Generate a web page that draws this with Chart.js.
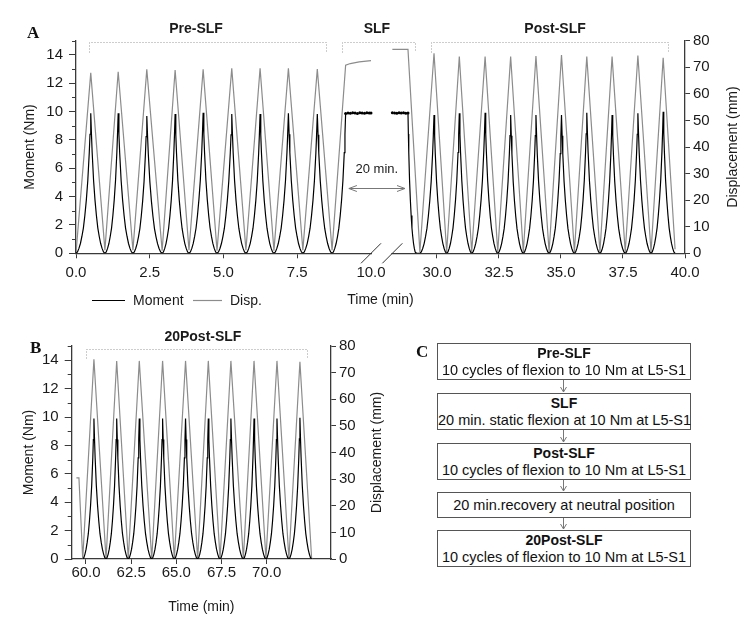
<!DOCTYPE html>
<html>
<head>
<meta charset="utf-8">
<script src="https://cdn.jsdelivr.net/npm/chart.js@4.4.1/dist/chart.umd.min.js"></script>
<style>
  body { margin: 0; background: #fff; width: 755px; height: 621px; position: relative; overflow: hidden;
         font-family: "Liberation Sans", Arial, sans-serif; color: #111; }
  canvas { position: absolute; }
  #chartA { left: 0; top: 0; }
  #chartB { left: 0; top: 320px; }
  .letter { position: absolute; font: bold 17px "Liberation Serif", "Times New Roman", serif; }
  .box { position: absolute; left: 437px; width: 254px; box-sizing: border-box; border: 1px solid #555;
         display: flex; flex-direction: column; justify-content: center; text-align: center;
         font-size: 14.5px; line-height: 16.5px; white-space: nowrap; }
  .box b { font-size: 14px; }
  #flowArrows { position: absolute; left: 0; top: 0; }
</style>
</head>
<body>
<canvas id="chartA" width="755" height="320"></canvas>
<canvas id="chartB" width="400" height="301"></canvas>

<div class="letter" style="left:27px; top:23px">A</div>
<div class="letter" style="left:30px; top:338px">B</div>
<div class="letter" style="left:416px; top:342px">C</div>

<div class="box" style="top:343px; height:37px"><b>Pre-SLF</b>10 cycles of flexion to 10 Nm at L5-S1</div>
<div class="box" style="top:393px; height:37px"><b>SLF</b>20 min. static flexion at 10 Nm at L5-S1</div>
<div class="box" style="top:443px; height:37px"><b>Post-SLF</b>10 cycles of flexion to 10 Nm at L5-S1</div>
<div class="box" style="top:492px; height:26px">20 min.recovery at neutral position</div>
<div class="box" style="top:530px; height:37px"><b>20Post-SLF</b>10 cycles of flexion to 10 Nm at L5-S1</div>
<svg id="flowArrows" width="755" height="621">
  <g stroke="#777" stroke-width="1" fill="none">
    <path d="M563.5 380 V392 M560.5 387 L563.5 392 L566.5 387"/>
    <path d="M563.5 430 V442 M560.5 437 L563.5 442 L566.5 437"/>
    <path d="M563.5 480 V491 M560.5 486 L563.5 491 L566.5 486"/>
    <path d="M563.5 518 V529 M560.5 524 L563.5 529 L566.5 524"/>
  </g>
</svg>

<script>
// ---- tick labels ----
const xTickTimesA = [0, 2.5, 5, 7.5, 10, 30, 32.5, 35, 37.5, 40];
const xTickTimesB = [60, 62.5, 65, 67.5, 70];
const momentTicks = [0, 2, 4, 6, 8, 10, 12, 14];
const momentMinorTicks = [1, 3, 5, 7, 9, 11, 13, 15];
const dispTicks = [0, 10, 20, 30, 40, 50, 60, 70, 80];

// ---- panel A: Pre-SLF cycles (time in min, moment in Nm, displacement in mm) ----
const preTroughTimes = [0, 0.98, 1.93, 2.92, 3.83, 4.78, 5.76, 6.71, 7.69, 8.68];
const preTroughDisp  = [0, 1.2, 1.2, 1.0, 1.2, 1.0, 1.2, 1.0, 1.2, 1.2];
const prePeakTimes   = [0.50, 1.43, 2.40, 3.36, 4.31, 5.28, 6.24, 7.20, 8.18];
const prePeakDisp    = [67.9, 68.3, 69.2, 69.0, 69.2, 69.6, 69.6, 69.6, 69.3];
const prePeakMoment  = [9.88, 9.88, 9.69, 9.83, 9.92, 9.83, 9.83, 9.88, 9.83];

// ---- panel A: SLF hold (axis is broken between 10 and 28.2 min) ----
const slfDispTimes   = [9.14, 9.3, 9.6, 10.0, 28.2, 28.83];
const slfDisp        = [70.8, 71.4, 72.0, 72.5, 76.7, 76.7];
const slfMomentTimes = [9.14, 9.22, 9.30, 9.38, 9.46, 9.54, 9.62, 9.70, 9.78, 9.86, 9.94, 10.0,
                        28.2, 28.29, 28.38, 28.47, 28.56, 28.65, 28.74, 28.83];
const slfMoment      = [9.86, 9.9, 9.88, 9.92, 9.9, 9.87, 9.91, 9.9, 9.88, 9.92, 9.9, 9.9,
                        9.92, 9.9, 9.88, 9.91, 9.9, 9.92, 9.89, 9.9];
const slfRiseFrom = 8.68;   // moment leaves zero
const slfFallTo = 29.15;    // moment back to zero

// ---- panel A: Post-SLF cycles ----
const postTroughTimes = [29.31, 30.39, 31.40, 32.45, 33.48, 34.52, 35.54, 36.57, 37.59, 38.63, 39.60];
const postTroughDisp  = [0.5, 0.5, 0.5, 0.5, 0.5, 0.5, 0.5, 0.5, 0.5, 0.5, 1.5];
const postPeakTimes   = [29.88, 30.90, 31.94, 32.97, 33.99, 35.02, 36.04, 37.06, 38.10, 39.12];
const postPeakDisp    = [75.3, 74.0, 74.0, 74.0, 74.2, 74.6, 74.0, 74.0, 74.4, 73.6];
const postPeakMoment  = [9.76, 9.88, 9.92, 9.76, 9.76, 9.76, 9.92, 9.76, 9.88, 9.99];

// ---- panel B: 20Post-SLF cycles ----
const b20StartTimes  = [59.47, 59.61];
const b20StartDisp   = [30.5, 30.5];
const b20TroughTimes = [59.82, 61.11, 62.34, 63.64, 64.89, 66.18, 67.42, 68.71, 69.96, 71.23, 72.49];
const b20PeakTimes   = [60.44, 61.70, 62.95, 64.24, 65.51, 66.77, 68.02, 69.30, 70.57, 71.84];
const b20PeakDisp    = [75.0, 74.4, 74.4, 74.4, 74.4, 74.4, 74.4, 74.4, 74.4, 74.1];
const b20PeakMoment  = [9.9, 9.9, 9.9, 9.9, 9.9, 9.9, 9.9, 9.9, 9.9, 9.95];

const cuspStep  = [0, 0.05, 0.1, 0.2, 0.3, 0.4, 0.5, 0.6, 0.7, 0.8, 0.9, 1];
const cuspLevel = [1, 0.85, 0.72, 0.52, 0.38, 0.27, 0.18, 0.12, 0.07, 0.035, 0.01, 0];

// phase brackets
const phaseNamesA = ['Pre-SLF', 'SLF', 'Post-SLF'];
const phaseStartA = [0.44, 9.02, 29.76];
const phaseEndA   = [8.47, 29.11, 39.31];
const phaseLabelA = [4.07, 15, 34.76];
const phaseNamesB = ['20Post-SLF'];
const phaseStartB = [60.0];
const phaseEndB   = [72.23];
const phaseLabelB = [66.47];

// "20 min." arrow
const arrowTimes = [9.25, 28.71];
const arrowLevel = 4.6;
const arrowTextLevel = 5.9;
const arrowTextAt = 15;

const AXIS = '#3a3a3a';
const MOMENT_COLOR = '#000';
const DISP_COLOR = '#8c8c8c';
const FONT = '"Liberation Sans", Arial, sans-serif';
Chart.defaults.font.family = FONT;
Chart.defaults.color = '#1a1a1a';

// broken time axis for panel A
const breakFrom = 10, breakTo = 28.2;
const postAxisAt30 = 12.237, postSlope = 0.8407;
function toAxis(t) {
  if (t <= breakFrom) return t;
  const uTo = postAxisAt30 + (breakTo - 30) * postSlope;
  if (t < breakTo) return breakFrom + (t - breakFrom) / (breakTo - breakFrom) * (uTo - breakFrom);
  return postAxisAt30 + (t - 30) * postSlope;
}

function addRise(out, t0, tp, peak) {
  for (let k = cuspStep.length - 1; k >= 0; k--)
    out.push({ x: tp - cuspStep[k] * (tp - t0), y: peak * cuspLevel[k] });
}
function addFall(out, tp, t1, peak) {
  for (let k = 1; k < cuspStep.length; k++)
    out.push({ x: tp + cuspStep[k] * (t1 - tp), y: peak * cuspLevel[k] });
}
function addCycles(moment, disp, troughs, troughDisp, peaks, peakDisp, peakMoment) {
  for (let i = 0; i < troughs.length; i++) {
    disp.push({ x: troughs[i], y: troughDisp[i] });
    if (i < peaks.length) {
      disp.push({ x: peaks[i], y: peakDisp[i] });
      if (i + 1 < troughs.length) {
        addRise(moment, troughs[i], peaks[i], peakMoment[i]);
        addFall(moment, peaks[i], troughs[i + 1], peakMoment[i]);
      }
    }
  }
}
function withBreak(points) {
  const out = [];
  points.forEach((p, i) => {
    if (i > 0 && points[i - 1].x <= breakFrom && p.x >= breakTo)
      out.push({ x: toAxis((breakFrom + breakTo) / 2), y: null });
    out.push({ x: toAxis(p.x), y: p.y });
  });
  return out;
}

// ---- build panel A series ----
const momentA = [], dispA = [], slfMarkersA = [];
addCycles(momentA, dispA, preTroughTimes, preTroughDisp, prePeakTimes, prePeakDisp, prePeakMoment);
addRise(momentA, slfRiseFrom, slfMomentTimes[0], slfMoment[0]);
slfDispTimes.forEach((t, i) => dispA.push({ x: t, y: slfDisp[i] }));
slfMomentTimes.forEach((t, i) => slfMarkersA.push({ x: t, y: slfMoment[i] }));
const slfLast = slfMomentTimes.length - 1;
momentA.push({ x: slfMomentTimes[slfLast], y: slfMoment[slfLast] });
addFall(momentA, slfMomentTimes[slfLast], slfFallTo, slfMoment[slfLast]);
addCycles(momentA, dispA, postTroughTimes, postTroughDisp, postPeakTimes, postPeakDisp, postPeakMoment);

// ---- build panel B series ----
const momentB = [], dispB = [];
b20StartTimes.forEach((t, i) => dispB.push({ x: t, y: b20StartDisp[i] }));
addCycles(momentB, dispB, b20TroughTimes, b20TroughTimes.map(() => 0), b20PeakTimes, b20PeakDisp, b20PeakMoment);

// ---- plugins ----
const minorTicks = {
  id: 'minorTicks',
  afterDraw(chart) {
    const y = chart.scales.y, ctx = chart.ctx;
    ctx.save();
    ctx.strokeStyle = AXIS; ctx.lineWidth = 1;
    momentMinorTicks.forEach(v => {
      const py = Math.round(y.getPixelForValue(v)) + 0.5;
      ctx.beginPath(); ctx.moveTo(y.right - 4, py); ctx.lineTo(y.right, py); ctx.stroke();
    });
    ctx.restore();
  }
};

// right axis title reads bottom-to-top, like the left one
const rightTitle = {
  id: 'rightTitle',
  afterDraw(chart, args, opts) {
    const ctx = chart.ctx, s = chart.scales.y1, area = chart.chartArea;
    ctx.save();
    ctx.translate(s.right - opts.inset, (area.top + area.bottom) / 2);
    ctx.rotate(-Math.PI / 2);
    ctx.fillStyle = '#1a1a1a';
    ctx.font = '14px ' + FONT;
    ctx.textAlign = 'center'; ctx.textBaseline = 'middle';
    ctx.fillText(opts.text, 0, 0);
    ctx.restore();
  }
};

const phases = {
  id: 'phases',
  afterDraw(chart, args, opts) {
    const ctx = chart.ctx, x = chart.scales.x, top = chart.chartArea.top;
    const map = opts.map || (t => t);
    ctx.save();
    ctx.strokeStyle = '#9a9a9a'; ctx.lineWidth = 1; ctx.setLineDash([1, 2]);
    const by = Math.round(top + opts.bracketDy) + 0.5;
    opts.names.forEach((name, i) => {
      const x0 = Math.round(x.getPixelForValue(map(opts.starts[i]))) + 0.5;
      const x1 = Math.round(x.getPixelForValue(map(opts.ends[i]))) + 0.5;
      ctx.beginPath();
      ctx.moveTo(x0, by + opts.drop); ctx.lineTo(x0, by); ctx.lineTo(x1, by); ctx.lineTo(x1, by + opts.drop);
      ctx.stroke();
    });
    ctx.setLineDash([]);
    ctx.fillStyle = '#1a1a1a';
    ctx.font = 'bold 14px ' + FONT;
    ctx.textAlign = 'center'; ctx.textBaseline = 'middle';
    opts.names.forEach((name, i) => {
      ctx.fillText(name, x.getPixelForValue(map(opts.labels[i])), top + opts.labelDy);
    });
    ctx.restore();
  }
};

const panelAExtras = {
  id: 'panelAExtras',
  afterDraw(chart) {
    const ctx = chart.ctx, x = chart.scales.x, y = chart.scales.y;
    const y0 = y.getPixelForValue(0);
    ctx.save();
    // axis break
    const b1 = x.getPixelForValue(toAxis(breakFrom)), b2 = x.getPixelForValue(toAxis(breakTo));
    ctx.fillStyle = '#fff';
    ctx.fillRect(b1 + 1, y0 - 2, b2 - b1 - 2, 4);
    ctx.strokeStyle = '#333'; ctx.lineWidth = 1;
    [b1, b2].forEach(bx => {
      ctx.beginPath(); ctx.moveTo(bx - 10, y0 + 10); ctx.lineTo(bx + 10, y0 - 10); ctx.stroke();
    });
    // 20 min arrow
    const ax0 = x.getPixelForValue(toAxis(arrowTimes[0])), ax1 = x.getPixelForValue(toAxis(arrowTimes[1]));
    const ay = Math.round(y.getPixelForValue(arrowLevel)) + 0.5;
    ctx.strokeStyle = '#777';
    ctx.beginPath();
    ctx.moveTo(ax0, ay); ctx.lineTo(ax1, ay);
    ctx.moveTo(ax0 + 8, ay - 3); ctx.lineTo(ax0, ay); ctx.lineTo(ax0 + 8, ay + 3);
    ctx.moveTo(ax1 - 8, ay - 3); ctx.lineTo(ax1, ay); ctx.lineTo(ax1 - 8, ay + 3);
    ctx.stroke();
    ctx.fillStyle = '#1a1a1a';
    ctx.font = '13px ' + FONT;
    ctx.textAlign = 'center'; ctx.textBaseline = 'middle';
    ctx.fillText('20 min.', x.getPixelForValue(toAxis(arrowTextAt)), y.getPixelForValue(arrowTextLevel));
    // legend
    const ds = chart.data.datasets;
    ctx.font = '14px ' + FONT; ctx.textAlign = 'left';
    [[0, 92, 33], [1, 193, 29]].forEach(([i, lx, len]) => {
      ctx.strokeStyle = ds[i].borderColor; ctx.lineWidth = 1.2;
      ctx.beginPath(); ctx.moveTo(lx, 300.5); ctx.lineTo(lx + len, 300.5); ctx.stroke();
      ctx.fillText(ds[i].label, lx + len + 8, 301);
    });
    ctx.restore();
  }
};

function yAxes(leftTitlePad, leftWidth, rightWidth) {
  return {
    y: {
      type: 'linear', position: 'left', min: 0, max: 15,
      afterBuildTicks: s => { s.ticks = momentTicks.map(v => ({ value: v })); },
      afterFit: s => { s.width = leftWidth; },
      grid: { drawOnChartArea: false, tickLength: 7, tickColor: AXIS, tickWidth: 1 },
      border: { color: AXIS, width: 1.3 },
      ticks: { font: { size: 15 }, padding: 6 },
      title: { display: true, text: 'Moment (Nm)', font: { size: 14 }, padding: { top: leftTitlePad, bottom: 0 } }
    },
    y1: {
      type: 'linear', position: 'right', min: 0, max: 80,
      afterBuildTicks: s => { s.ticks = dispTicks.map(v => ({ value: v })); },
      afterFit: s => { s.width = rightWidth; },
      grid: { drawOnChartArea: false, tickLength: 5, tickColor: AXIS, tickWidth: 1 },
      border: { color: AXIS, width: 1.3 },
      ticks: { font: { size: 15 }, padding: 3 }
    }
  };
}

function datasets(moment, disp) {
  return [
    { label: 'Moment', data: moment, yAxisID: 'y', borderColor: MOMENT_COLOR, borderWidth: 1.2,
      pointRadius: 0, tension: 0, spanGaps: false },
    { label: 'Disp.', data: disp, yAxisID: 'y1', borderColor: DISP_COLOR, borderWidth: 1.2,
      pointRadius: 0, tension: 0, spanGaps: false }
  ];
}

// ---- panel A ----
const dsA = datasets(withBreak(momentA), withBreak(dispA));
dsA.push({ label: 'SLF moment', data: slfMarkersA.map(p => ({ x: toAxis(p.x), y: p.y })), yAxisID: 'y',
  borderColor: MOMENT_COLOR, backgroundColor: MOMENT_COLOR, borderWidth: 0, showLine: false,
  pointRadius: 1.5, pointBorderWidth: 0 });

new Chart(document.getElementById('chartA'), {
  type: 'line',
  data: { datasets: dsA },
  options: {
    responsive: false, animation: false, events: [],
    layout: { padding: { top: 40.7, left: 0, right: 0, bottom: 0 } },
    plugins: {
      legend: { display: false }, tooltip: { enabled: false },
      phases: { names: phaseNamesA, starts: phaseStartA, ends: phaseEndA, labels: phaseLabelA,
                map: toAxis, bracketDy: 1, drop: 10, labelDy: -11.5 },
      rightTitle: { text: 'Displacement (mm)', inset: 22 }
    },
    scales: {
      x: {
        type: 'linear', min: 0, max: toAxis(40),
        afterBuildTicks: s => { s.ticks = xTickTimesA.map(t => ({ value: toAxis(t) })); },
        afterFit: s => { s.height = 320 - 253.3; },
        grid: { drawOnChartArea: false, tickLength: 5, tickWidth: 1,
                tickColor: c => (c.index === 4 ? 'rgba(0,0,0,0)' : AXIS) },
        border: { color: AXIS, width: 1.3 },
        ticks: { font: { size: 15 }, padding: 6, maxRotation: 0, autoSkip: false,
                 callback: (v, i) => xTickTimesA[i].toFixed(1) },
        title: { display: true, text: 'Time (min)', font: { size: 14 }, padding: { top: 0, bottom: 11.6 } }
      },
      ...yAxes(21.6, 76, 70)
    }
  },
  plugins: [minorTicks, phases, panelAExtras, rightTitle]
});

// ---- panel B ----
new Chart(document.getElementById('chartB'), {
  type: 'line',
  data: { datasets: datasets(momentB, dispB) },
  options: {
    responsive: false, animation: false, events: [],
    layout: { padding: { top: 26, left: 0, right: 0, bottom: 0 } },
    plugins: {
      legend: { display: false }, tooltip: { enabled: false },
      phases: { names: phaseNamesB, starts: phaseStartB, ends: phaseEndB, labels: phaseLabelB,
                bracketDy: 3, drop: 9, labelDy: -9 },
      rightTitle: { text: 'Displacement (mm)', inset: 22.5 }
    },
    scales: {
      x: {
        type: 'linear', min: 59.21, max: 73.56,
        afterBuildTicks: s => { s.ticks = xTickTimesB.map(t => ({ value: t })); },
        afterFit: s => { s.height = 301 - 239; },
        grid: { drawOnChartArea: false, tickLength: 5, tickWidth: 1, tickColor: AXIS },
        border: { color: AXIS, width: 1.3 },
        ticks: { font: { size: 15 }, padding: 0, maxRotation: 0, autoSkip: false,
                 callback: v => v.toFixed(1) },
        title: { display: true, text: 'Time (min)', font: { size: 14 }, padding: { top: 0, bottom: 5.6 } }
      },
      ...yAxes(21.1, 71.7, 69)
    }
  },
  plugins: [minorTicks, phases, rightTitle]
});
</script>
</body>
</html>
